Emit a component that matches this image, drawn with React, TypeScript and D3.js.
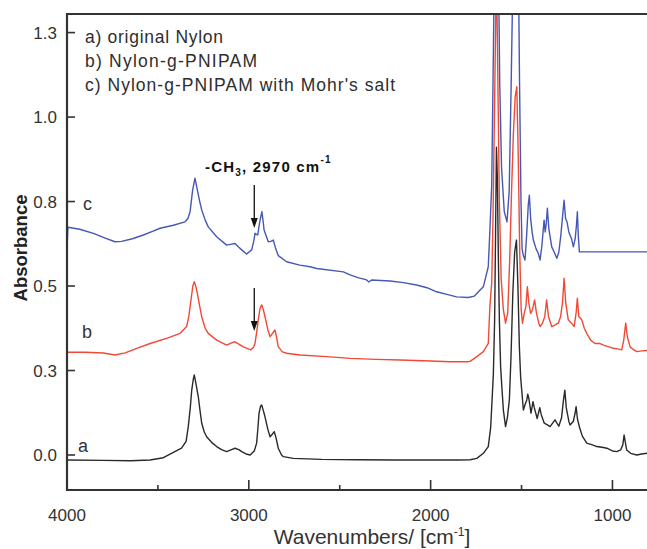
import React from "react";
import * as d3 from "d3";

type Pt = [number, number];

// wavenumber (cm-1), absorbance
const nylonA: Pt[] = [
  [4000,-0.015],[3800,-0.016],[3650,-0.017],[3543,-0.015],[3470,-0.008],[3415,0.008],[3370,0.02],[3345,0.04],
  [3333,0.084],[3322,0.14],[3314,0.192],[3305,0.225],[3300,0.237],[3292,0.215],[3278,0.173],[3268,0.13],
  [3259,0.094],[3245,0.068],[3232,0.054],[3200,0.035],[3177,0.025],[3150,0.016],[3122,0.01],[3095,0.016],
  [3076,0.02],[3055,0.016],[3039,0.01],[3015,0.003],[2993,0.0],[2970,0.012],[2957,0.035],[2950,0.08],
  [2944,0.123],[2935,0.145],[2929,0.148],[2922,0.135],[2911,0.113],[2895,0.075],[2883,0.054],[2870,0.062],
  [2860,0.069],[2850,0.05],[2838,0.02],[2820,0.0],[2810,-0.005],[2755,-0.01],[2600,-0.013],[2400,-0.014],
  [2200,-0.015],[2000,-0.015],[1850,-0.015],[1783,-0.014],[1746,-0.01],[1710,0.005],[1683,0.025],[1670,0.08],
  [1664,0.143],[1655,0.24],[1648,0.4],[1643,0.65],[1638,0.911],[1633,0.82],[1628,0.6],[1622,0.4],
  [1615,0.26],[1607,0.19],[1600,0.133],[1588,0.084],[1578,0.11],[1567,0.163],[1558,0.29],[1548,0.478],
  [1538,0.6],[1528,0.636],[1520,0.5],[1512,0.32],[1505,0.23],[1499,0.192],[1490,0.133],[1480,0.15],
  [1471,0.163],[1466,0.18],[1460,0.168],[1448,0.124],[1437,0.158],[1430,0.14],[1414,0.108],[1400,0.14],
  [1392,0.12],[1375,0.094],[1360,0.09],[1343,0.084],[1316,0.104],[1295,0.085],[1280,0.11],[1270,0.16],
  [1262,0.192],[1254,0.14],[1240,0.1],[1233,0.089],[1215,0.1],[1205,0.125],[1200,0.143],[1192,0.105],
  [1180,0.08],[1165,0.055],[1141,0.035],[1110,0.03],[1086,0.025],[1050,0.022],[1031,0.02],[1000,0.012],
  [976,0.01],[955,0.015],[943,0.03],[936,0.059],[930,0.04],[922,0.015],[900,0.005],[866,0.0],[840,0.003],[810,0.005]
];

const nylonB: Pt[] = [
  [4000,0.304],[3900,0.304],[3800,0.302],[3736,0.296],[3680,0.302],[3620,0.315],[3543,0.33],[3452,0.345],
  [3378,0.36],[3342,0.38],[3330,0.41],[3318,0.459],[3308,0.5],[3300,0.513],[3292,0.5],[3283,0.478],
  [3270,0.44],[3259,0.409],[3240,0.375],[3223,0.36],[3177,0.34],[3122,0.325],[3095,0.332],[3076,0.335],
  [3055,0.328],[3030,0.32],[2990,0.311],[2975,0.318],[2966,0.33],[2955,0.37],[2948,0.4],[2938,0.435],
  [2929,0.444],[2920,0.43],[2911,0.409],[2895,0.37],[2883,0.35],[2870,0.36],[2856,0.37],[2848,0.35],
  [2838,0.32],[2815,0.305],[2792,0.301],[2718,0.296],[2572,0.291],[2443,0.286],[2300,0.283],[2168,0.281],
  [2000,0.278],[1893,0.276],[1800,0.276],[1783,0.277],[1746,0.291],[1710,0.306],[1683,0.33],[1674,0.44],
  [1664,0.51],[1657,0.7],[1648,1.05],[1638,1.45],[1630,1.1],[1622,0.75],[1612,0.52],[1600,0.43],
  [1588,0.39],[1576,0.42],[1565,0.58],[1555,0.78],[1545,0.95],[1535,1.06],[1526,1.09],[1518,0.88],
  [1510,0.6],[1502,0.43],[1495,0.39],[1485,0.42],[1476,0.44],[1468,0.498],[1460,0.45],[1450,0.419],
  [1440,0.43],[1428,0.459],[1418,0.42],[1405,0.39],[1398,0.38],[1385,0.39],[1372,0.41],[1362,0.459],
  [1352,0.41],[1334,0.38],[1315,0.385],[1298,0.39],[1285,0.41],[1275,0.45],[1266,0.523],[1257,0.45],
  [1243,0.4],[1225,0.39],[1211,0.38],[1200,0.42],[1193,0.464],[1185,0.41],[1169,0.4],[1155,0.375],
  [1141,0.36],[1120,0.34],[1096,0.33],[1070,0.33],[1050,0.325],[1020,0.32],[995,0.316],[970,0.314],
  [949,0.311],[938,0.34],[927,0.39],[918,0.35],[903,0.32],[880,0.31],[866,0.306],[840,0.308],[810,0.309]
];

const nylonC: Pt[] = [
  [4000,0.607],[3995,0.674],[3930,0.668],[3855,0.656],[3790,0.642],[3736,0.631],[3700,0.632],[3640,0.64],
  [3580,0.651],[3530,0.662],[3488,0.671],[3415,0.68],[3351,0.69],[3335,0.7],[3323,0.72],[3309,0.784],
  [3296,0.819],[3283,0.784],[3270,0.75],[3259,0.725],[3240,0.695],[3223,0.675],[3177,0.646],[3122,0.621],
  [3095,0.624],[3076,0.626],[3055,0.615],[3039,0.607],[3012,0.595],[2984,0.607],[2972,0.635],[2966,0.656],
  [2951,0.651],[2940,0.69],[2928,0.72],[2921,0.69],[2916,0.666],[2893,0.631],[2880,0.632],[2865,0.636],
  [2852,0.61],[2838,0.59],[2792,0.572],[2720,0.562],[2663,0.557],[2627,0.552],[2480,0.542],[2443,0.533],
  [2400,0.525],[2352,0.518],[2340,0.512],[2325,0.518],[2223,0.515],[2150,0.51],[2077,0.503],[2020,0.495],
  [1967,0.483],[1900,0.474],[1857,0.468],[1793,0.466],[1760,0.47],[1728,0.488],[1710,0.498],[1683,0.557],
  [1674,0.666],[1664,0.8],[1657,1.1],[1648,1.5],[1638,1.7],[1628,1.5],[1620,1.1],[1610,0.85],
  [1595,0.72],[1580,0.69],[1568,0.78],[1557,1.1],[1545,1.5],[1532,1.8],[1520,1.6],[1511,1.1],
  [1503,0.75],[1497,0.61],[1490,0.59],[1481,0.577],[1472,0.65],[1463,0.74],[1457,0.769],[1450,0.7],
  [1442,0.66],[1435,0.636],[1420,0.61],[1408,0.597],[1398,0.577],[1388,0.62],[1376,0.695],[1370,0.66],
  [1365,0.68],[1358,0.73],[1350,0.67],[1334,0.616],[1320,0.6],[1306,0.582],[1295,0.6],[1284,0.65],
  [1272,0.72],[1266,0.754],[1258,0.7],[1250,0.69],[1240,0.66],[1225,0.64],[1215,0.616],[1205,0.64],
  [1198,0.68],[1193,0.72],[1188,0.65],[1182,0.601],[1000,0.601],[810,0.601]
];

const xTicks = [4000, 3000, 2000, 1000];
const xMinorTicks = [3500, 2500, 1500];
const yTicks = [0, 0.25, 0.5, 0.75, 1.0, 1.25];
const yTickLabels = ["0.0", "0.3", "0.5", "0.8", "1.0", "1.3"];
const legendLines = ["a) original Nylon", "b) Nylon-g-PNIPAM", "c) Nylon-g-PNIPAM with Mohr's salt"];
const seriesLabels = ["a", "b", "c"];
const arrowWave = 2970;
const arrowSpans: Pt[] = [[0.799, 0.672], [0.494, 0.367]];

const FONT = "'Liberation Sans', Arial, Helvetica, sans-serif";

export default function App() {
  const W = 647, H = 549;
  const left = 67, right = 647, top = 14, bottom = 490;
  const x = d3.scaleLinear().domain([4000, 810]).range([left, right]);
  const y = d3.scaleLinear().domain([-0.1036, 1.305]).range([bottom, top]);
  const line = d3.line<Pt>().x(d => x(d[0])).y(d => y(d[1]));

  const series = [
    { data: nylonA, color: "#2a2a2a" },
    { data: nylonB, color: "#f04a36" },
    { data: nylonC, color: "#4558b4" },
  ];
  const labelPos = [[78, 452], [82, 338], [83, 210]];
  const legendY = [43, 66.5, 91];
  const legendLen = [138, 172, 310];

  return (
    <svg width={W} height={H} style={{ position: "absolute", left: 0, top: 0, background: "#fff" }}
      fontFamily={FONT}>
      <defs>
        <clipPath id="plotclip">
          <rect x={left} y={top} width={right - left} height={bottom - top} />
        </clipPath>
      </defs>
      <rect x={0} y={0} width={W} height={H} fill="#fff" />
      <g clipPath="url(#plotclip)">
        {series.map((s, i) => (
          <path key={i} d={line(s.data) || ""} fill="none" stroke={s.color} strokeWidth={1.4}
            strokeLinejoin="round" />
        ))}
      </g>
      {/* frame */}
      <path d={`M${right},${top}H${left}V${bottom}H${right}`} fill="none" stroke="#333" strokeWidth={2.2} />
      {/* y ticks */}
      {yTicks.map((t, i) => (
        <g key={i}>
          <line x1={left} x2={left + 8} y1={y(t)} y2={y(t)} stroke="#333" strokeWidth={1.6} />
          <text x={57} y={y(t)} dy="0.36em" textAnchor="end" fontSize={17} fill="#333">{yTickLabels[i]}</text>
        </g>
      ))}
      {/* x ticks */}
      {xTicks.map((t, i) => (
        <g key={i}>
          <line x1={x(t)} x2={x(t)} y1={bottom} y2={bottom - 10} stroke="#333" strokeWidth={1.6} />
          <text x={x(t)} y={521} textAnchor="middle" fontSize={17} fill="#333">{t}</text>
        </g>
      ))}
      {xMinorTicks.map((t, i) => (
        <line key={i} x1={x(t)} x2={x(t)} y1={bottom} y2={bottom - 5} stroke="#333" strokeWidth={1.6} />
      ))}
      {/* axis titles */}
      <text x={372} y={544} textAnchor="middle" fontSize={21} fill="#333">
        Wavenumbers/ [cm<tspan dy={-8} fontSize={12}>-1</tspan><tspan dy={8}>]</tspan>
      </text>
      <text transform="translate(27,248) rotate(-90)" textAnchor="middle" fontSize={18.5} fontWeight="bold" fill="#222">
        Absorbance
      </text>
      {/* legend */}
      {legendLines.map((t, i) => (
        <text key={i} x={85} y={legendY[i]} fontSize={17.5} fill="#2e2e2e" textLength={legendLen[i]}
          lengthAdjust="spacing">{t}</text>
      ))}
      {/* series labels */}
      {seriesLabels.map((t, i) => (
        <text key={i} x={labelPos[i][0]} y={labelPos[i][1]} fontSize={18} fill="#333">{t}</text>
      ))}
      {/* annotation */}
      <text x={205} y={172} fontSize={15} fontWeight="bold" fill="#111" letterSpacing={1.2}>
        -CH<tspan dy={4} fontSize={10}>3</tspan><tspan dy={-4}>, 2970 cm</tspan>
        <tspan dy={-9} fontSize={10}>-1</tspan>
      </text>
      {arrowSpans.map((s, i) => {
        const ax = x(arrowWave);
        const y0 = y(s[0]);
        const y1 = y(s[1]);
        return (
          <g key={i}>
            <line x1={ax} x2={ax} y1={y0} y2={y1 - 8} stroke="#111" strokeWidth={1.3} />
            <path d={`M${ax - 3.5},${y1 - 10}L${ax + 3.5},${y1 - 10}L${ax},${y1}Z`} fill="#111" />
          </g>
        );
      })}
    </svg>
  );
}
